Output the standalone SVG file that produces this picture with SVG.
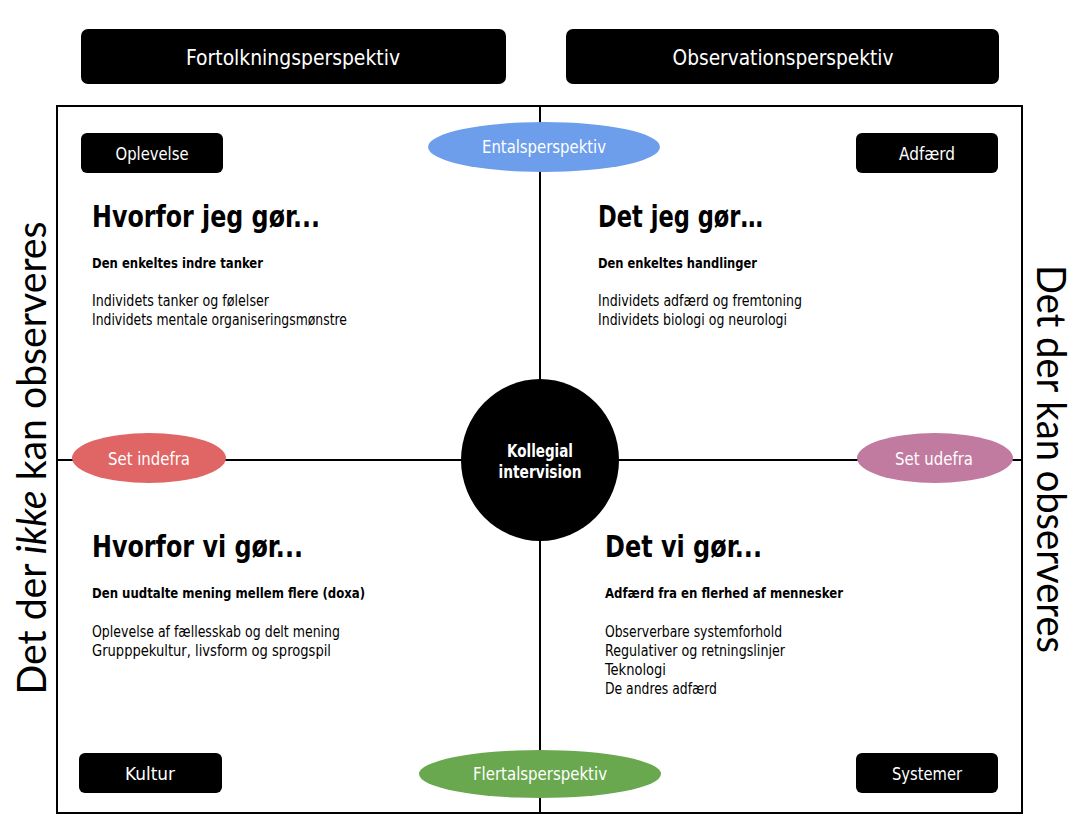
<svg xmlns="http://www.w3.org/2000/svg" width="1085" height="837" viewBox="0 0 1085 837">
<style>
.t{font-family:"DejaVu Sans Condensed","DejaVu Sans",sans-serif;fill:#000}
.w{font-family:"DejaVu Sans Condensed","DejaVu Sans",sans-serif;fill:#fff;text-anchor:middle}
.box{fill:#000}
.h{font-size:31px;font-weight:bold}
.s{font-size:14px;font-weight:bold}
.b{font-size:15px}
.side{font-family:Lato,"Open Sans",sans-serif;font-size:41px;fill:#000;text-anchor:middle}
.ln{stroke:#000;stroke-width:2;fill:none}
</style>
<rect width="1085" height="837" fill="#fff"/>
<g id="connectors">
<rect class="ln" x="57" y="106" width="965" height="707"/>
<line class="ln" x1="540" y1="106" x2="540" y2="813"/>
<line class="ln" x1="57" y1="460" x2="1022" y2="460"/>
</g>
<g id="fortolkning"><rect class="box" x="81" y="29" width="425" height="55" rx="7"/><text class="w" x="293" y="65" font-size="22" textLength="214" lengthAdjust="spacingAndGlyphs">Fortolkningsperspektiv</text></g>
<g id="observation"><rect class="box" x="566" y="29" width="433" height="55" rx="7"/><text class="w" x="783" y="65" font-size="22" textLength="221" lengthAdjust="spacingAndGlyphs">Observationsperspektiv</text></g>
<g id="oplevelse"><rect class="box" x="81" y="133" width="142" height="40" rx="6"/><text class="w" x="152" y="160" font-size="17" textLength="73" lengthAdjust="spacingAndGlyphs">Oplevelse</text></g>
<g id="adfaerd"><rect class="box" x="856" y="133" width="142" height="40" rx="6"/><text class="w" x="927" y="160" font-size="17" textLength="56" lengthAdjust="spacingAndGlyphs">Adfærd</text></g>
<g id="kultur"><rect class="box" x="79" y="753" width="143" height="40" rx="6"/><text class="w" x="150" y="780" font-size="17" textLength="50" lengthAdjust="spacingAndGlyphs">Kultur</text></g>
<g id="systemer"><rect class="box" x="856" y="753" width="142" height="40" rx="6"/><text class="w" x="927" y="780" font-size="17" textLength="70" lengthAdjust="spacingAndGlyphs">Systemer</text></g>
<g id="ental"><ellipse cx="544" cy="147" rx="116" ry="25" fill="#6d9eeb"/><text class="w" x="544" y="153" font-size="17" textLength="124" lengthAdjust="spacingAndGlyphs">Entalsperspektiv</text></g>
<g id="flertal"><ellipse cx="540" cy="774" rx="121" ry="24" fill="#6aa84f"/><text class="w" x="540" y="780" font-size="17" textLength="134" lengthAdjust="spacingAndGlyphs">Flertalsperspektiv</text></g>
<g id="indefra"><ellipse cx="149" cy="458" rx="77" ry="25" fill="#e06666"/><text class="w" x="149" y="465" font-size="17" textLength="82" lengthAdjust="spacingAndGlyphs">Set indefra</text></g>
<g id="udefra"><ellipse cx="935" cy="458" rx="78" ry="25" fill="#c27ba0"/><text class="w" x="934" y="465" font-size="17" textLength="78" lengthAdjust="spacingAndGlyphs">Set udefra</text></g>
<g id="center"><ellipse cx="540" cy="460" rx="79" ry="81" fill="#000"/><text class="w" x="540" y="457" font-size="17" font-weight="bold" textLength="66" lengthAdjust="spacingAndGlyphs">Kollegial</text><text class="w" x="540" y="478" font-size="17" font-weight="bold" textLength="83" lengthAdjust="spacingAndGlyphs">intervision</text></g>
<g id="q1">
<text class="t h" x="92" y="227" textLength="228" lengthAdjust="spacingAndGlyphs">Hvorfor jeg gør...</text>
<text class="t s" x="92" y="268" textLength="171" lengthAdjust="spacingAndGlyphs">Den enkeltes indre tanker</text>
<text class="t b" x="92" y="306" textLength="177" lengthAdjust="spacingAndGlyphs">Individets tanker og følelser</text>
<text class="t b" x="92" y="325" textLength="255" lengthAdjust="spacingAndGlyphs">Individets mentale organiseringsmønstre</text>
</g>
<g id="q2">
<text class="t h" x="598" y="227" textLength="165" lengthAdjust="spacingAndGlyphs">Det jeg gør…</text>
<text class="t s" x="598" y="268" textLength="159" lengthAdjust="spacingAndGlyphs">Den enkeltes handlinger</text>
<text class="t b" x="598" y="306" textLength="204" lengthAdjust="spacingAndGlyphs">Individets adfærd og fremtoning</text>
<text class="t b" x="598" y="325" textLength="189" lengthAdjust="spacingAndGlyphs">Individets biologi og neurologi</text>
</g>
<g id="q3">
<text class="t h" x="92" y="557" textLength="211" lengthAdjust="spacingAndGlyphs">Hvorfor vi gør...</text>
<text class="t s" x="92" y="598" textLength="273" lengthAdjust="spacingAndGlyphs">Den uudtalte mening mellem flere (doxa)</text>
<text class="t b" x="92" y="637" textLength="248" lengthAdjust="spacingAndGlyphs">Oplevelse af fællesskab og delt mening</text>
<text class="t b" x="92" y="656" textLength="239" lengthAdjust="spacingAndGlyphs">Grupppekultur, livsform og sprogspil</text>
</g>
<g id="q4">
<text class="t h" x="605" y="557" textLength="157" lengthAdjust="spacingAndGlyphs">Det vi gør...</text>
<text class="t s" x="605" y="598" textLength="238" lengthAdjust="spacingAndGlyphs">Adfærd fra en flerhed af mennesker</text>
<text class="t b" x="605" y="637" textLength="177" lengthAdjust="spacingAndGlyphs">Observerbare systemforhold</text>
<text class="t b" x="605" y="656" textLength="180" lengthAdjust="spacingAndGlyphs">Regulativer og retningslinjer</text>
<text class="t b" x="605" y="675" textLength="61" lengthAdjust="spacingAndGlyphs">Teknologi</text>
<text class="t b" x="605" y="694" textLength="112" lengthAdjust="spacingAndGlyphs">De andres adfærd</text>
</g>
<g id="side-left"><text class="side" transform="translate(46,458) rotate(-90)" textLength="473" lengthAdjust="spacingAndGlyphs">Det der <tspan font-style="italic">ikke</tspan> kan observeres</text></g>
<g id="side-right"><text class="side" transform="translate(1037,459) rotate(90)" textLength="388" lengthAdjust="spacingAndGlyphs">Det der kan observeres</text></g>
</svg>
